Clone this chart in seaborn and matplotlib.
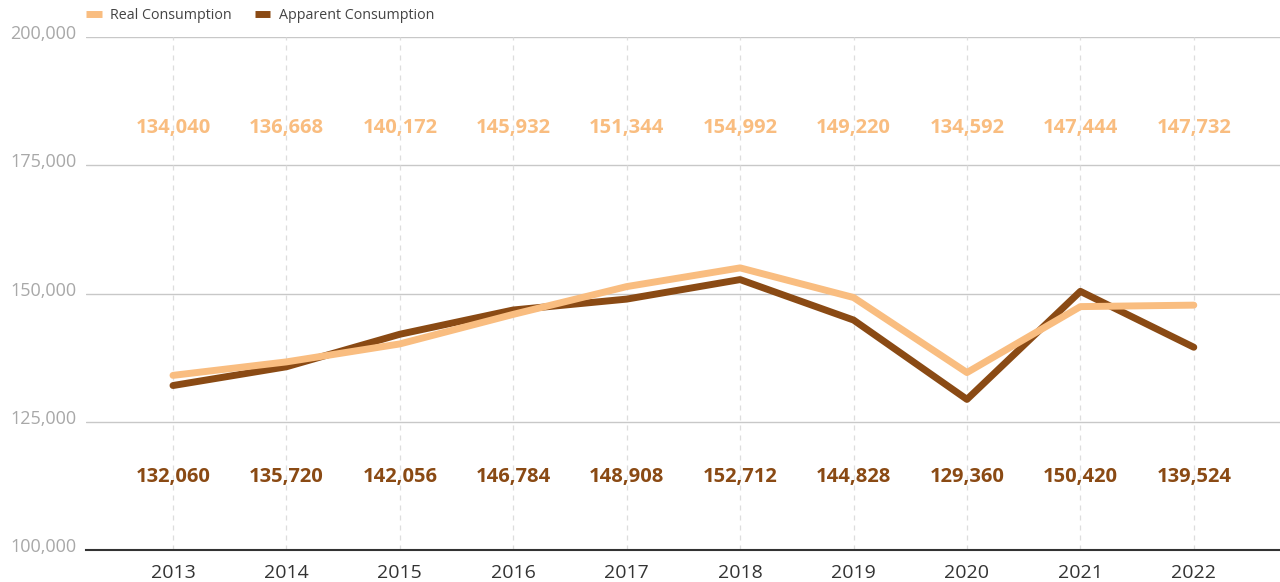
import pandas as pd
import matplotlib.pyplot as plt
import matplotlib.transforms as mtransforms
import seaborn as sns
from matplotlib.lines import Line2D

# data
years = [2013, 2014, 2015, 2016, 2017, 2018, 2019, 2020, 2021, 2022]
real_consumption = [134040, 136668, 140172, 145932, 151344, 154992, 149220, 134592, 147444, 147732]
apparent_consumption = [132060, 135720, 142056, 146784, 148908, 152712, 144828, 129360, 150420, 139524]
series_names = ["Real Consumption", "Apparent Consumption"]
y_ticks = [100000, 125000, 150000, 175000, 200000]

light = "#F9BD80"
dark = "#8A4A14"

sns.set_style("white")
plt.rcParams['font.family'] = ['Open Sans', 'DejaVu Sans']

df = pd.DataFrame({
    "idx": list(range(len(years))) * 2,
    "value": real_consumption + apparent_consumption,
    "series": [series_names[0]] * len(years) + [series_names[1]] * len(years),
})

fig = plt.figure(figsize=(12.8, 5.82), dpi=100)
ax = fig.add_axes([86 / 1280, 1 - 550 / 582, 1 - 86 / 1280, (550 - 37) / 582])

# grid
for y in y_ticks[1:]:
    ax.axhline(y, color="#c8c8c8", lw=1, zorder=0)
for i in range(len(years)):
    ax.axvline(i, color="#dddddd", lw=0.9, ls=(0, (4, 4)), zorder=0)

# apparent drawn first, real on top
sns.lineplot(data=df, x="idx", y="value", hue="series",
             palette={series_names[0]: light, series_names[1]: dark},
             hue_order=series_names[::-1],
             linewidth=5, ax=ax, legend=False)
for line in ax.get_lines()[-2:]:
    line.set_solid_capstyle("round")

ax.set_xlim(-0.767, 9.76)
ax.set_ylim(100000, 200000)
ax.set_xticks(range(len(years)))
ax.set_xticklabels([str(y) for y in years], fontsize=14, color="#333333")
ax.set_yticks(y_ticks)
ax.set_yticklabels([f"{y:,}" for y in y_ticks], fontsize=13, color="#a8a8a8")
ax.tick_params(axis="both", length=0)
ax.tick_params(axis="y", pad=7)
ax.tick_params(axis="x", pad=10)
offset = mtransforms.ScaledTranslation(0, 3.5 / 72, fig.dpi_scale_trans)
for lbl in ax.get_yticklabels():
    lbl.set_transform(lbl.get_transform() + offset)

for s in ["top", "right", "left"]:
    ax.spines[s].set_visible(False)
ax.spines["bottom"].set_color("#333333")
ax.spines["bottom"].set_linewidth(1.5)
ax.set_xlabel("")
ax.set_ylabel("")

# value labels
for i in range(len(years)):
    ax.text(i, 182260, f"{real_consumption[i]:,}", ha="center", va="center",
            fontsize=14.5, fontweight="bold", color=light)
    ax.text(i, 114230, f"{apparent_consumption[i]:,}", ha="center", va="center",
            fontsize=14.5, fontweight="bold", color=dark)

# legend
handles = [Line2D([0], [0], color=light, lw=5, solid_capstyle="butt"),
           Line2D([0], [0], color=dark, lw=5, solid_capstyle="butt")]
fig.legend(handles, series_names, loc="upper left", bbox_to_anchor=(73 / 1280, 1.008),
           ncol=2, frameon=False, fontsize=10.3, handlelength=1.1, handletextpad=0.6,
           columnspacing=1.6, labelcolor="#444444")

fig.savefig("out.png", dpi=100)
